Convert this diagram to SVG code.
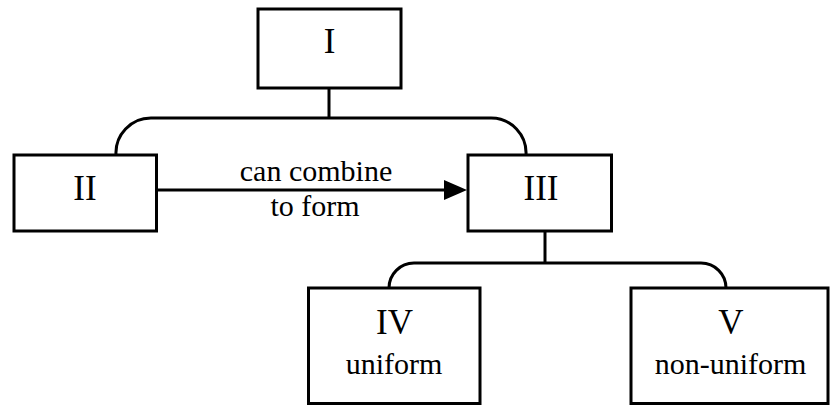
<svg xmlns="http://www.w3.org/2000/svg" width="830" height="406" viewBox="0 0 830 406">
<style>
.box{fill:#fff;stroke:#000;stroke-width:3}
.ln{fill:none;stroke:#000;stroke-width:3}
.num{font-family:"Liberation Serif","Times New Roman",serif;font-size:35px;text-anchor:middle;fill:#000}
.lbl{font-family:"Liberation Serif","Times New Roman",serif;font-size:30px;text-anchor:middle;fill:#000}
</style>
<rect width="830" height="406" fill="#fff"/>
<g id="connectors">
<path class="ln" d="M329 88 V118"/>
<path class="ln" d="M116 155 A35 35 0 0 1 151 118 H491 A35 35 0 0 1 526 155"/>
<path class="ln" d="M545 231 V263"/>
<path class="ln" d="M389 288 A25 25 0 0 1 414 263 H701 A25 25 0 0 1 726 288"/>
<line class="ln" x1="157" y1="190" x2="446" y2="190"/>
<polygon points="444,180 467,190 444,200" fill="#000"/>
<text class="lbl" x="316" y="181">can combine</text>
<text class="lbl" x="315" y="216">to form</text>
</g>
<g id="node-I">
<rect class="box" x="258" y="9" width="143" height="79"/>
<text class="num" x="329.5" y="53">I</text>
</g>
<g id="node-II">
<rect class="box" x="14" y="155" width="142.5" height="76"/>
<text class="num" x="85" y="200">II</text>
</g>
<g id="node-III">
<rect class="box" x="468" y="155" width="143.5" height="76"/>
<text class="num" x="541" y="200">III</text>
</g>
<g id="node-IV">
<rect class="box" x="308.5" y="288" width="171.5" height="115.5"/>
<text class="num" x="394.5" y="334">IV</text>
<text class="lbl" x="394" y="374">uniform</text>
</g>
<g id="node-V">
<rect class="box" x="631" y="288" width="197" height="115.5"/>
<text class="num" x="731" y="334">V</text>
<text class="lbl" x="730.5" y="374">non-uniform</text>
</g>
</svg>
